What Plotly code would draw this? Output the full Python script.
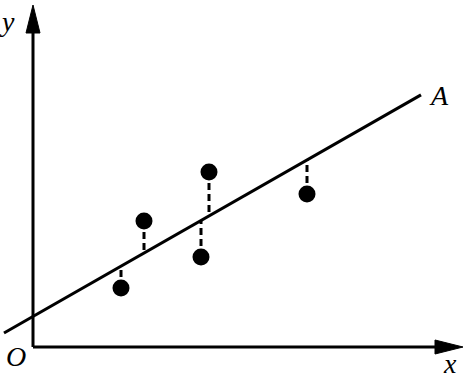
import plotly.graph_objects as go

# data (units: 1 unit ~ 1 pixel, origin O at (0,0))
point_x = [88, 111, 168, 176, 274]
point_y = [59, 126, 90, 175, 153]
line_intercept = 30.6
line_slope = 0.571
line_x = [-29, 388]

x_axis_end = 430
y_axis_end = 342
arrow_len = 28
arrow_half = 7

fig = go.Figure()

# regression line A
line_y = [line_intercept + line_slope * v for v in line_x]
fig.add_trace(go.Scatter(x=line_x, y=line_y, mode="lines",
                         line=dict(color="black", width=3), hoverinfo="skip"))

# dashed residuals
for px_, py_ in zip(point_x, point_y):
    ly = line_intercept + line_slope * px_
    fig.add_trace(go.Scatter(x=[px_, px_], y=[py_, ly], mode="lines",
                             line=dict(color="black", width=3, dash="7px,4px"),
                             hoverinfo="skip"))

# axes
fig.add_trace(go.Scatter(x=[0, x_axis_end - arrow_len], y=[0, 0], mode="lines",
                         line=dict(color="black", width=3), hoverinfo="skip"))
fig.add_trace(go.Scatter(x=[0, 0], y=[0, y_axis_end - arrow_len], mode="lines",
                         line=dict(color="black", width=3), hoverinfo="skip"))
# arrow heads
fig.add_trace(go.Scatter(x=[x_axis_end - arrow_len, x_axis_end, x_axis_end - arrow_len, x_axis_end - arrow_len],
                         y=[arrow_half, 0, -arrow_half, arrow_half], mode="lines", fill="toself",
                         fillcolor="black", line=dict(color="black", width=1), hoverinfo="skip"))
fig.add_trace(go.Scatter(x=[-arrow_half, 0, arrow_half, -arrow_half],
                         y=[y_axis_end - arrow_len, y_axis_end, y_axis_end - arrow_len, y_axis_end - arrow_len],
                         mode="lines", fill="toself",
                         fillcolor="black", line=dict(color="black", width=1), hoverinfo="skip"))

# points
fig.add_trace(go.Scatter(x=point_x, y=point_y, mode="markers",
                         marker=dict(color="black", size=17), hoverinfo="skip"))

font = dict(family="Liberation Serif, Times New Roman, serif", size=28, color="black")
labels = [("<i>y</i>", -26, 326), ("<i>O</i>", -17, -9), ("<i>x</i>", 417, -16), ("<i>A</i>", 406, 252)]
for t, x, y in labels:
    fig.add_annotation(x=x, y=y, text=t, showarrow=False, font=font,
                       xanchor="center", yanchor="middle")

fig.update_layout(
    width=464, height=385, margin=dict(l=0, r=0, t=0, b=0),
    plot_bgcolor="white", paper_bgcolor="white", showlegend=False,
    xaxis=dict(range=[-33, 431], visible=False, fixedrange=True),
    yaxis=dict(range=[-38, 347], visible=False, fixedrange=True),
)
fig.write_html("out.html", config={"displayModeBar": False})
